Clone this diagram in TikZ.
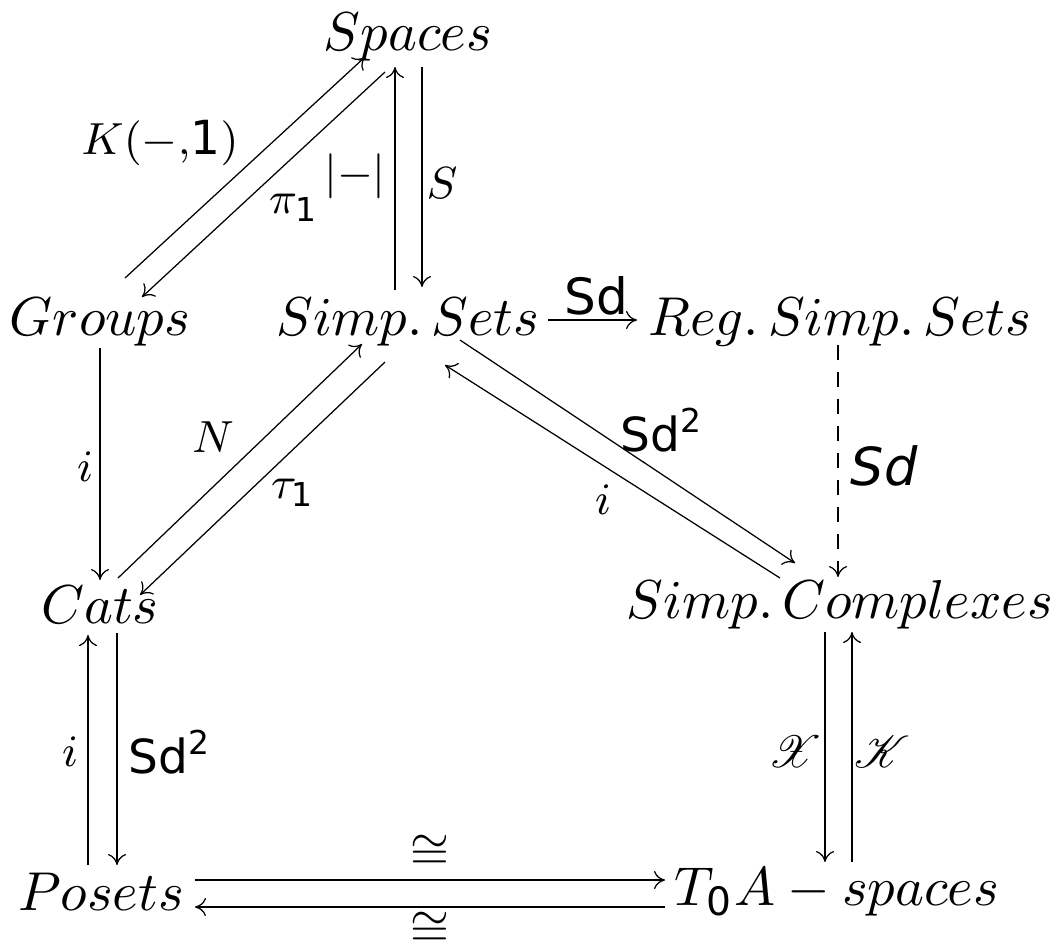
\documentclass[tikz,border=0pt]{standalone}
\usepackage{fontspec}
\setsansfont{DejaVu Sans}
\usepackage{mathrsfs}
\usetikzlibrary{arrows.meta}
\begin{document}
\begin{tikzpicture}[x=0.2pt,y=-0.2pt,
  obj/.style={anchor=base,inner sep=0pt,font=\fontsize{11.2}{13}\selectfont},
  lab/.style={inner sep=0pt,font=\fontsize{9.4}{11}\selectfont},
  arr/.style={-{To[length=2.2pt,width=3.6pt]},line width=0.25pt},
]
\useasboundingbox (0,0) rectangle (1063,950);
% objects
\node[obj] (sp) at (408,50) {$Spaces$};
\node[obj] (gr) at (100,335) {$Groups$};
\node[obj] (ss) at (408,335) {$Simp.\,Sets$};
\node[obj] (rs) at (840,335) {$Reg.\,Simp.\,Sets$};
\node[obj] (ca) at (100,623) {$Cats$};
\node[obj] (sc) at (840,618) {$Simp.\,Complexes$};
\node[obj] (po) at (101,910) {$Posets$};
\node[obj] (ta) at (837,905) {$T_{\mathsf{0}}A-spaces$};
% connectors
\draw[arr] ([shift={(25,-57)}]gr.base) -- ([shift={(-43,7)}]sp.base);
\draw[arr] ([shift={(-23,22)}]sp.base) -- ([shift={(42,-38)}]gr.base);
\draw[arr] ([shift={(-13,-45)}]ss.base) -- ([shift={(-13,17)}]sp.base);
\draw[arr] ([shift={(14,17)}]sp.base) -- ([shift={(14,-48)}]ss.base);
\draw[arr] ([shift={(140,-15)}]ss.base) -- ([shift={(-203,-15)}]rs.base);
\draw[arr,dashed,dash pattern=on 3pt off 2.4pt] ([shift={(-2,10)}]rs.base) -- ([shift={(-2,-41)}]sc.base);
\draw[arr] ([shift={(0,13)}]gr.base) -- ([shift={(0,-43)}]ca.base);
\draw[arr] ([shift={(18,-45)}]ca.base) -- ([shift={(-46,9)}]ss.base);
\draw[arr] ([shift={(-23,27)}]ss.base) -- ([shift={(40,-28)}]ca.base);
\draw[arr] ([shift={(-60,-40)}]sc.base) -- ([shift={(37,30)}]ss.base);
\draw[arr] ([shift={(52,5)}]ss.base) -- ([shift={(-45,-55)}]sc.base);
\draw[arr] ([shift={(-13,-45)}]po.base) -- ([shift={(-12,12)}]ca.base);
\draw[arr] ([shift={(17,10)}]ca.base) -- ([shift={(16,-45)}]po.base);
\draw[arr] ([shift={(-15,14)}]sc.base) -- ([shift={(-12,-43)}]ta.base);
\draw[arr] ([shift={(15,-43)}]ta.base) -- ([shift={(12,14)}]sc.base);
\draw[arr] ([shift={(94,-30)}]po.base) -- ([shift={(-172,-25)}]ta.base);
\draw[arr] ([shift={(-172,2)}]ta.base) -- ([shift={(94,-3)}]po.base);
% labels
\node[lab] (lK) at (160,143) {$K(-{,}\mathsf{1})$};
\node[lab] (lpi) at (294,208) {$\pi_{\mathsf{1}}$};
\node[lab] (lr) at (355,176) {$|{-}|$};
\node[lab] (lS) at (442,183) {$S$};
\node[lab,font=\fontsize{10}{12}\selectfont] (lSd) at (596,296) {\sffamily Sd};
\node[lab,font=\fontsize{10.5}{12}\selectfont] (lSdd) at (884,466) {\sffamily\itshape Sd};
\node[lab] (li1) at (85,467) {$i$};
\node[lab] (lN) at (213,437) {$N$};
\node[lab] (ltau) at (293,493) {$\tau_{\mathsf{1}}$};
\node[lab] (lSd2a) at (662,430) {\sffamily Sd$^{\mathsf{2}}$};
\node[lab] (li2) at (603,500) {$i$};
\node[lab] (li3) at (70,752) {$i$};
\node[lab] (lSd2b) at (170,752) {\sffamily Sd$^{\mathsf{2}}$};
\node[lab] (lX) at (795,752) {$\mathscr{X}$};
\node[lab] (lKK) at (882,752) {$\mathscr{K}$};
\node[lab,font=\fontsize{10}{12}\selectfont] (lc1) at (430,852) {$\cong$};
\node[lab,font=\fontsize{10}{12}\selectfont] (lc2) at (430,929) {$\cong$};
\end{tikzpicture}
\end{document}
